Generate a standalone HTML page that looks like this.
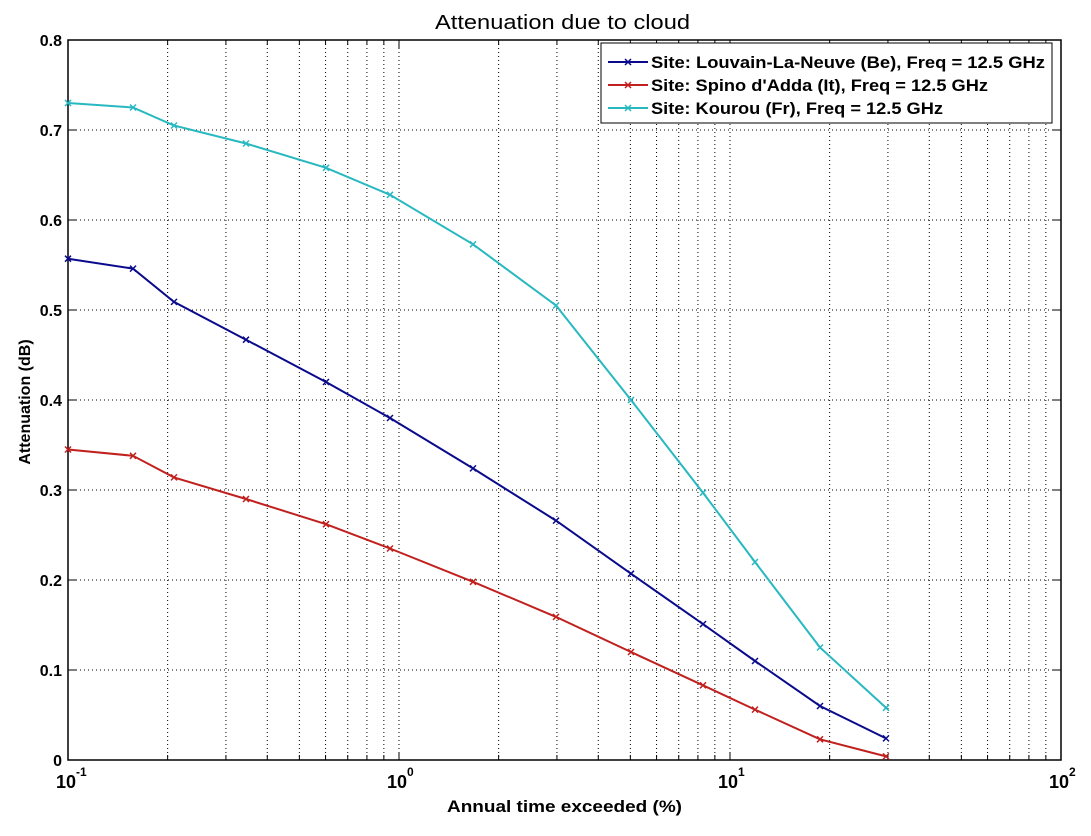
<!DOCTYPE html>
<html><head><meta charset="utf-8"><style>
html,body{margin:0;padding:0;background:#fff;}
svg{display:block;font-family:"Liberation Sans",Arial,sans-serif;}
</style></head><body>
<svg id="s" width="1091" height="836" xmlns="http://www.w3.org/2000/svg"></svg>
<script>
const s=document.getElementById('s');
const L=68,R=1061,T=40,B=760,D=(R-L)/3;
let h='<rect width="1091" height="836" fill="#fff"/>';
const X=v=>L+(Math.log10(v)+1)*D, Y=v=>B-v*900;
for(let d=-1;d<2;d++)for(let m=1;m<10;m++){const x=X(m*Math.pow(10,d));
 if(x>L+1&&x<R-1)h+=`<line x1="${x}" y1="${T}" x2="${x}" y2="${B}" stroke="#000" stroke-width="1" stroke-dasharray="1,3"/>`;
 h+=`<line x1="${x}" y1="${B}" x2="${x}" y2="${B-(m==1?8:5)}" stroke="#000"/><line x1="${x}" y1="${T}" x2="${x}" y2="${T+(m==1?8:5)}" stroke="#000"/>`;}
for(let i=1;i<8;i++){const y=Y(i/10);h+=`<line x1="${L}" y1="${y}" x2="${R}" y2="${y}" stroke="#000" stroke-dasharray="1,3"/>`;}
for(let i=0;i<=8;i++){const y=Y(i/10);h+=`<line x1="${L}" y1="${y}" x2="${L+8}" y2="${y}" stroke="#000"/><line x1="${R}" y1="${y}" x2="${R-8}" y2="${y}" stroke="#000"/>`;
 h+=`<text x="${L-6}" y="${y+6}" text-anchor="end" font-size="16" font-weight="bold">${i==0?'0':(i/10).toFixed(1)}</text>`;}
h+=`<rect x="${L}" y="${T}" width="${R-L}" height="${B-T}" fill="none" stroke="#000" stroke-width="1.5"/>`;
for(let d=-1;d<=2;d++){const x=L+(d+1)*D;h+=`<text x="${x-2}" y="788" text-anchor="middle" font-size="18" font-weight="bold">10</text><text x="${x+8}" y="776" font-size="12" font-weight="bold">${d}</text>`;}
const xs=[68,133,174,246,326,390,473,556,631,703,755,820,886];
const series=[["#0a0a8c",[.557,.546,.509,.467,.42,.38,.324,.266,.207,.151,.11,.06,.024]],
["#c0201e",[.345,.338,.314,.29,.262,.235,.198,.159,.12,.083,.056,.023,.004]],
["#28b8c0",[.73,.725,.705,.685,.658,.628,.573,.505,.40,.297,.22,.125,.058]]];
for(const [c,v] of series){h+=`<polyline fill="none" stroke="${c}" stroke-width="2" points="${xs.map((x,i)=>x+','+Y(v[i])).join(' ')}"/>`;
 xs.forEach((x,i)=>{const y=Y(v[i]);h+=`<path d="M${x-3} ${y-3}L${x+3} ${y+3}M${x-3} ${y+3}L${x+3} ${y-3}" stroke="${c}" stroke-width="1.5"/>`;});}
h+=`<rect x="601" y="43" width="451" height="80" fill="#fff" stroke="#000"/>`;
const lab=["Site: Louvain-La-Neuve (Be), Freq = 12.5 GHz","Site: Spino d'Adda (It), Freq = 12.5 GHz","Site: Kourou (Fr), Freq = 12.5 GHz"];
const lw=[394,337,292];
series.forEach(([c],i)=>{const y=62+i*23;h+=`<line x1="608" y1="${y}" x2="648" y2="${y}" stroke="${c}" stroke-width="2"/><path d="M625 ${y-3}L631 ${y+3}M625 ${y+3}L631 ${y-3}" stroke="${c}" stroke-width="1.5"/><text x="651" y="${y+6}" font-size="16.5" font-weight="bold" textLength="${lw[i]}" lengthAdjust="spacingAndGlyphs">${lab[i]}</text>`;});
h+=`<text x="435" y="29" font-size="20" textLength="255" lengthAdjust="spacingAndGlyphs">Attenuation due to cloud</text>`;
h+=`<text x="447" y="812" font-size="17" font-weight="bold" textLength="235" lengthAdjust="spacingAndGlyphs">Annual time exceeded (%)</text>`;
h+=`<text transform="translate(30,402) rotate(-90)" text-anchor="middle" font-size="16" font-weight="bold">Attenuation (dB)</text>`;
s.innerHTML=h;
</script>
</body></html>
